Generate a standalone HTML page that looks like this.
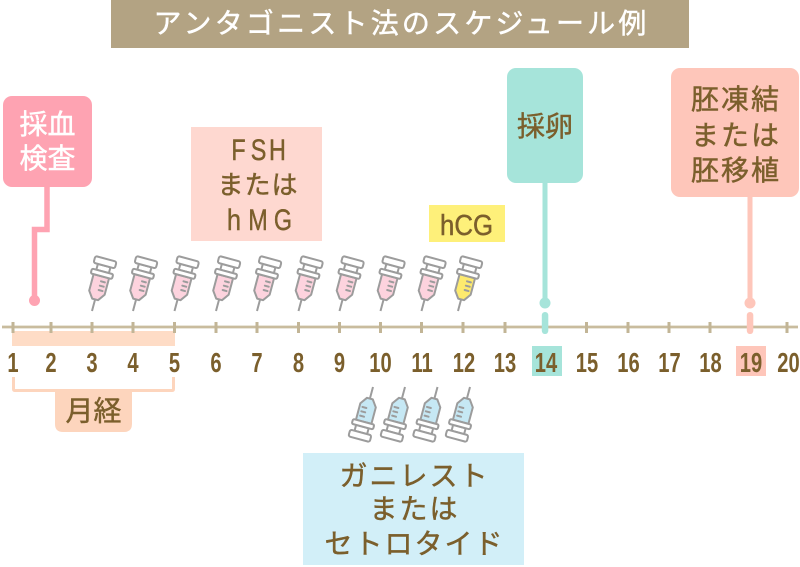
<!DOCTYPE html>
<html><head><meta charset="utf-8">
<style>
html,body{margin:0;padding:0;background:#fff;}
svg{display:block;}
.jp{font-family:"Liberation Sans","Noto Sans CJK JP",sans-serif;}
.br{fill:#7b5f2c;stroke:#7b5f2c;stroke-width:0.45;}
.wt{fill:#fff;stroke:#fff;stroke-width:0.45;}
</style></head>
<body>
<svg width="800" height="567" viewBox="0 0 800 567" xmlns="http://www.w3.org/2000/svg">
<defs>
<g id="syr" stroke="#9c9c9c" stroke-width="2" stroke-linejoin="round">
  <line x1="0" y1="0" x2="0" y2="-12" fill="none"/>
  <path d="M-8,-36 L8,-36 L8,-19 L3,-12 L-3,-12 L-8,-19 Z"/>
  <rect x="-6.5" y="-47" width="13" height="6" fill="#fff"/>
  <rect x="-11" y="-41" width="22" height="5" rx="1.5" fill="#fff"/>
  <rect x="-11" y="-54" width="22" height="7" rx="2" fill="#fff"/>
  <path d="M1,-31 h4 M1,-26.5 h4 M1,-22 h4" fill="none" stroke-linecap="round"/>
</g>
</defs>

<!-- Title -->
<rect x="111" y="0" width="578" height="48" fill="#b3a383"/>
<text class="jp wt" x="401.5" y="33" font-size="28" letter-spacing="3.2" text-anchor="middle">アンタゴニスト法のスケジュール例</text>

<!-- 採血検査 -->
<rect x="3" y="96" width="89" height="91" rx="9" fill="#fea3b2"/>
<text class="jp wt" x="47.5" y="134" font-size="28" text-anchor="middle">採血</text>
<text class="jp wt" x="47.5" y="168" font-size="28" text-anchor="middle">検査</text>
<path d="M47,185 V229.5 H34.5 V300" fill="none" stroke="#fea3b2" stroke-width="5.5"/>
<circle cx="34.5" cy="300.5" r="5.5" fill="#fea3b2"/>

<!-- FSH box -->
<rect x="191" y="127" width="131" height="114" fill="#fed8d0"/>
<g class="br" font-family="Liberation Sans, sans-serif" font-size="30" text-anchor="middle">
  <text transform="translate(238.5,160) scale(0.78,1)">F</text>
  <text transform="translate(258.5,160) scale(0.78,1)">S</text>
  <text transform="translate(277.5,160) scale(0.78,1)">H</text>
  <text transform="translate(234,230) scale(0.85,1)">h</text>
  <text transform="translate(258,230) scale(0.78,1)">M</text>
  <text transform="translate(283,230) scale(0.78,1)">G</text>
</g>
<text class="jp br" x="258" y="194" font-size="26" letter-spacing="1" text-anchor="middle">または</text>

<!-- hCG -->
<rect x="429" y="205" width="76" height="37" fill="#fef07a"/>
<text class="br" x="440" y="235" font-size="29" font-family="Liberation Sans, sans-serif" textLength="53" lengthAdjust="spacingAndGlyphs">hCG</text>

<!-- 採卵 -->
<rect x="507" y="68" width="76" height="115" rx="9" fill="#a6e4da"/>
<text class="jp br" x="545" y="136" font-size="28" text-anchor="middle">採卵</text>
<line x1="545" y1="180" x2="545" y2="302" stroke="#a6e4da" stroke-width="5"/>
<circle cx="545" cy="303" r="5.5" fill="#a6e4da"/>

<!-- 胚凍結 -->
<rect x="671" y="68" width="128" height="129" rx="9" fill="#fec6ba"/>
<text class="jp br" x="736" y="109" font-size="28" letter-spacing="2" text-anchor="middle">胚凍結</text>
<text class="jp br" x="736" y="145" font-size="28" letter-spacing="2" text-anchor="middle">または</text>
<text class="jp br" x="736" y="180" font-size="28" letter-spacing="2" text-anchor="middle">胚移植</text>
<line x1="750" y1="194" x2="750" y2="302" stroke="#fec6ba" stroke-width="5"/>
<circle cx="750" cy="303" r="5.5" fill="#fec6ba"/>

<!-- pink syringes -->
<use href="#syr" fill="#fdd3de" transform="translate(92,311) rotate(15)"/>
<use href="#syr" fill="#fdd3de" transform="translate(133,311) rotate(15)"/>
<use href="#syr" fill="#fdd3de" transform="translate(174.5,311) rotate(15)"/>
<use href="#syr" fill="#fdd3de" transform="translate(216,311) rotate(15)"/>
<use href="#syr" fill="#fdd3de" transform="translate(257,311) rotate(15)"/>
<use href="#syr" fill="#fdd3de" transform="translate(298.5,311) rotate(15)"/>
<use href="#syr" fill="#fdd3de" transform="translate(339.5,311) rotate(15)"/>
<use href="#syr" fill="#fdd3de" transform="translate(380.5,311) rotate(15)"/>
<use href="#syr" fill="#fdd3de" transform="translate(421.5,311) rotate(15)"/>
<use href="#syr" fill="#fdea6e" transform="translate(458,311) rotate(15)"/>

<!-- period bar -->
<rect x="12" y="331" width="163" height="15" fill="#fedcc6"/>

<!-- timeline -->
<line x1="2" y1="327" x2="798" y2="327" stroke="#c9bc9e" stroke-width="2.8"/>
<g stroke="#c2b596" stroke-width="3">
  <line x1="13" y1="322" x2="13" y2="333"/>
  <line x1="51" y1="322" x2="51" y2="333"/>
  <line x1="92" y1="322" x2="92" y2="333"/>
  <line x1="133" y1="322" x2="133" y2="333"/>
  <line x1="174.5" y1="322" x2="174.5" y2="333"/>
  <line x1="216" y1="322" x2="216" y2="333"/>
  <line x1="257" y1="322" x2="257" y2="333"/>
  <line x1="298.5" y1="322" x2="298.5" y2="333"/>
  <line x1="339.5" y1="322" x2="339.5" y2="333"/>
  <line x1="380.5" y1="322" x2="380.5" y2="333"/>
  <line x1="421.5" y1="322" x2="421.5" y2="333"/>
  <line x1="463" y1="322" x2="463" y2="333"/>
  <line x1="505" y1="322" x2="505" y2="333"/>
  <line x1="586.5" y1="322" x2="586.5" y2="333"/>
  <line x1="628" y1="322" x2="628" y2="333"/>
  <line x1="669" y1="322" x2="669" y2="333"/>
  <line x1="710" y1="322" x2="710" y2="333"/>
  <line x1="787" y1="322" x2="787" y2="333"/>
</g>
<rect x="541.8" y="312" width="6.5" height="22" rx="3.2" fill="#a6e4da"/>
<rect x="746.8" y="312" width="6.5" height="22" rx="3.2" fill="#fec6ba"/>

<!-- number highlight boxes -->
<rect x="532" y="346" width="30" height="30" fill="#a6e4da"/>
<rect x="736" y="346" width="30" height="30" fill="#fec6ba"/>

<!-- numbers -->
<g fill="#7b5f2c" font-family="Liberation Sans, sans-serif" font-weight="bold" font-size="28" text-anchor="middle">
  <text transform="translate(13,372) scale(0.72,1)">1</text>
  <text transform="translate(51,372) scale(0.72,1)">2</text>
  <text transform="translate(92,372) scale(0.72,1)">3</text>
  <text transform="translate(133,372) scale(0.72,1)">4</text>
  <text transform="translate(174.5,372) scale(0.72,1)">5</text>
  <text transform="translate(216,372) scale(0.72,1)">6</text>
  <text transform="translate(257,372) scale(0.72,1)">7</text>
  <text transform="translate(298.5,372) scale(0.72,1)">8</text>
  <text transform="translate(339.5,372) scale(0.72,1)">9</text>
  <text transform="translate(380.5,372) scale(0.72,1)">10</text>
  <text transform="translate(422,372) scale(0.72,1)">11</text>
  <text transform="translate(464,372) scale(0.72,1)">12</text>
  <text transform="translate(505,372) scale(0.72,1)">13</text>
  <text transform="translate(546,372) scale(0.72,1)">14</text>
  <text transform="translate(587,372) scale(0.72,1)">15</text>
  <text transform="translate(628.5,372) scale(0.72,1)">16</text>
  <text transform="translate(669.5,372) scale(0.72,1)">17</text>
  <text transform="translate(710.5,372) scale(0.72,1)">18</text>
  <text transform="translate(751,372) scale(0.72,1)">19</text>
  <text transform="translate(788.5,372) scale(0.72,1)">20</text>
</g>

<!-- bracket and 月経 -->
<path d="M13.5,377 V389 Q13.5,390.5 15,390.5 H172 Q173.5,390.5 173.5,389 V377" fill="none" stroke="#fdd5bd" stroke-width="3"/>
<path d="M55,389 H132 V424 Q132,432 124,432 H63 Q55,432 55,424 Z" fill="#fdd5bd"/>
<text class="jp br" x="93.5" y="420.5" font-size="28" text-anchor="middle">月経</text>

<!-- blue syringes -->
<use href="#syr" fill="#c6e8f4" transform="translate(373,387) rotate(195)"/>
<use href="#syr" fill="#c6e8f4" transform="translate(405,387) rotate(195)"/>
<use href="#syr" fill="#c6e8f4" transform="translate(437.5,387) rotate(195)"/>
<use href="#syr" fill="#c6e8f4" transform="translate(470,387) rotate(195)"/>

<!-- blue label -->
<rect x="303" y="453" width="221" height="112" fill="#d2eff8"/>
<text class="jp br" x="414.5" y="485.5" font-size="28" letter-spacing="2" text-anchor="middle">ガニレスト</text>
<text class="jp br" x="414.5" y="518.5" font-size="28" letter-spacing="2" text-anchor="middle">または</text>
<text class="jp br" x="414.5" y="553.5" font-size="28" letter-spacing="2" text-anchor="middle">セトロタイド</text>
</svg>
</body></html>
